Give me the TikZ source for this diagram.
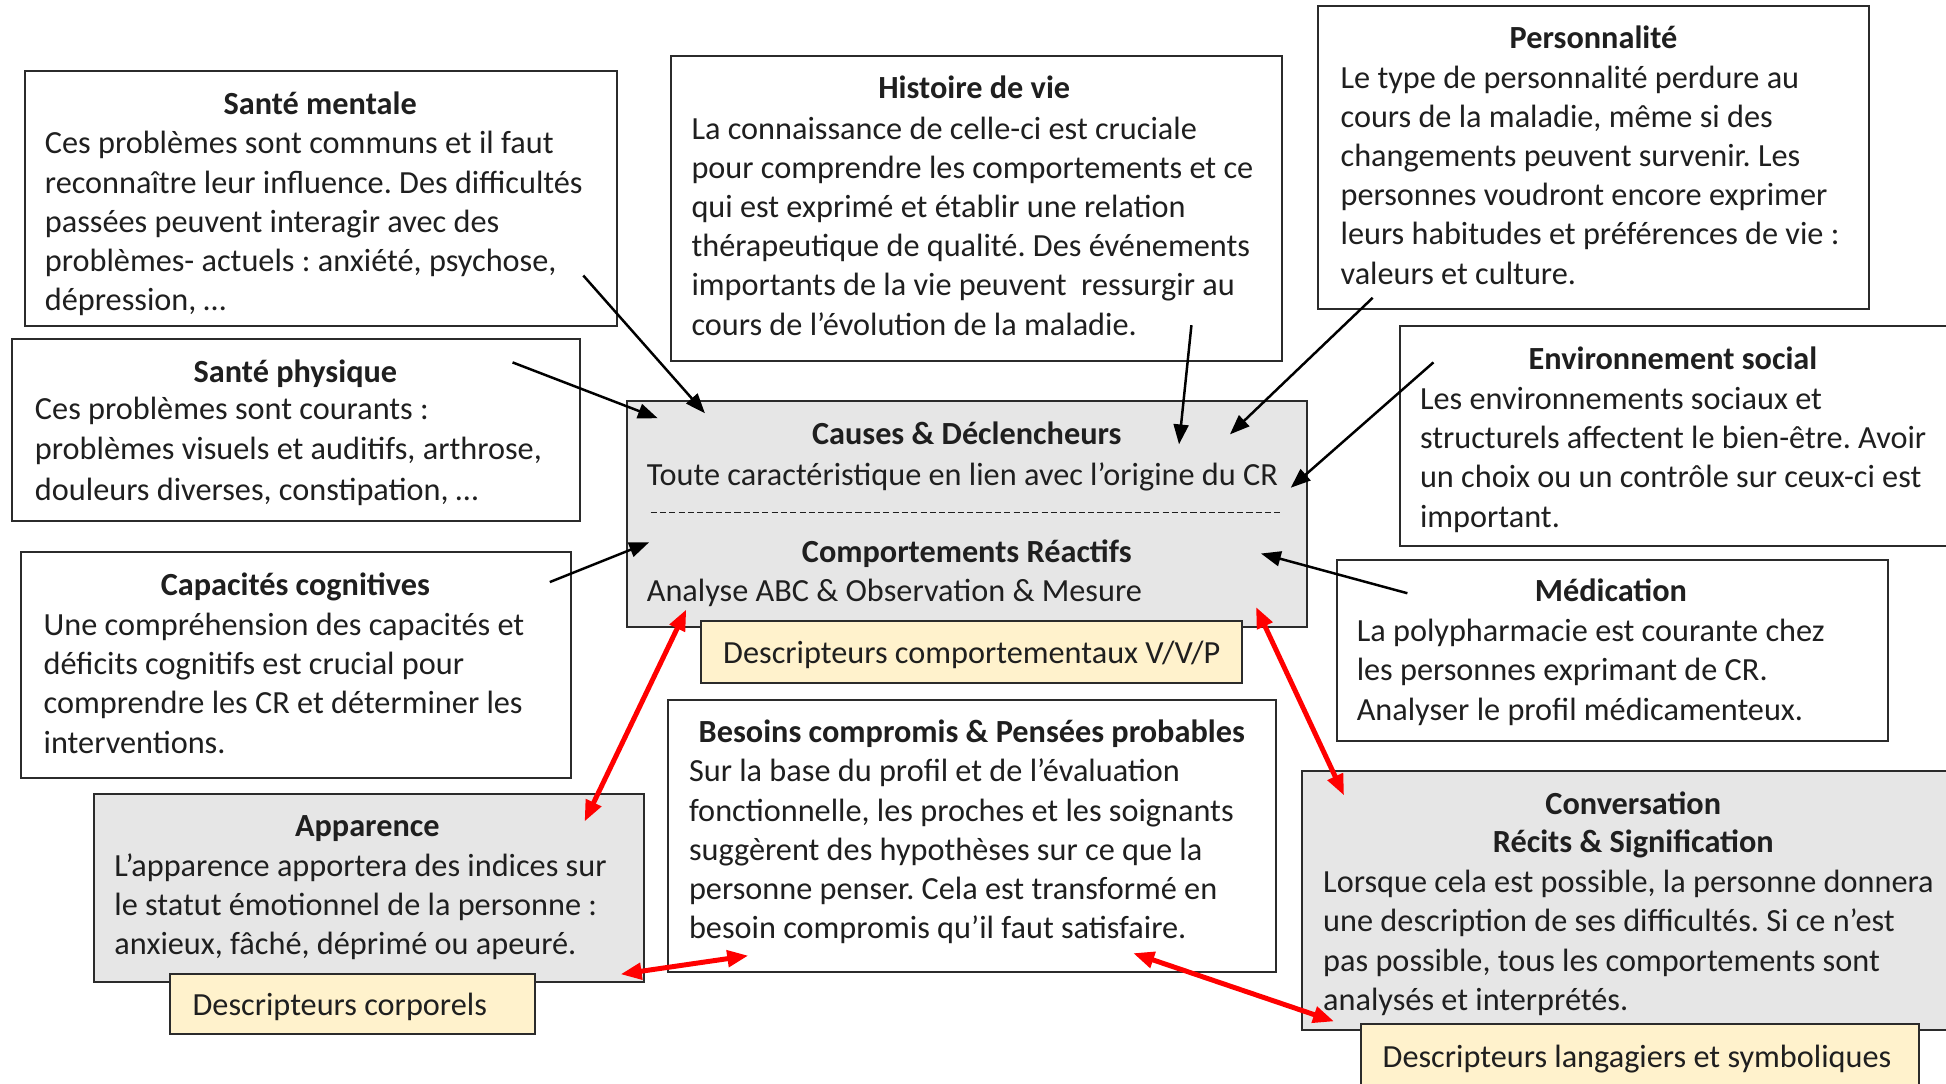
\documentclass[tikz,border=0pt]{standalone}
\usepackage{fontspec}
\setmainfont{Carlito}
\usetikzlibrary{arrows.meta,fit,calc}
\definecolor{boxgrey}{HTML}{E6E6E6}
\definecolor{tagyellow}{HTML}{FFF2CC}
\definecolor{ink}{HTML}{1F1F1F}
\definecolor{frame}{HTML}{2B2B2B}
\definecolor{arrowred}{HTML}{FF0000}

% multi-line bodies are anchored on the baseline of their last line
\tikzset{
  card/.style={draw=frame, line width=1.6pt, fill=white, inner sep=0pt},
  greycard/.style={card, fill=boxgrey},
  tagcard/.style={card, fill=tagyellow},
  head/.style={font=\fontsize{26}{31.6}\selectfont\bfseries, text=ink, inner sep=0pt, anchor=base},
  label/.style={font=\fontsize{26}{31.6}\selectfont, text=ink, inner sep=0pt, anchor=base},
  body/.style={font=\fontsize{26}{31.6}\selectfont, text=ink, inner sep=0pt, anchor=base west, align=left},
  link/.style={draw=black, line width=2pt, -{Triangle[length=16pt,width=12pt]}},
  redlink/.style={draw=arrowred, line width=4pt, {Triangle[length=17pt,width=13pt]}-{Triangle[length=17pt,width=13pt]}},
}

\begin{document}
\frenchspacing
\begin{tikzpicture}[x=1pt,y=-1pt]
\clip (0,0) rectangle (1568,873);
\fill[white] (0,0) rectangle (1568,873);

% ---- left column
\node[card, fit={(20,57) (497,263)}] (mentale) {};
\node[head] (mentaleH) at (258,92) {Santé mentale};
\node[body] (mentaleB) at (36,250.4) {Ces problèmes sont communs et il faut\\
reconnaître leur influence. Des difficultés\\
passées peuvent interagir avec des\\
problèmes- actuels : anxiété, psychose,\\
dépression, …};

\node[card, fit={(10,273) (467,420)}] (physique) {};
\node[head] (physiqueH) at (238,308) {Santé physique};
\node[body, font=\fontsize{26}{32.4}\selectfont] (physiqueB) at (28,403) {Ces problèmes sont courants :\\
problèmes visuels et auditifs, arthrose,\\
douleurs diverses, constipation, …};

\node[card, fit={(17,445) (460,627)}] (cognitif) {};
\node[head] (cognitifH) at (238,480) {Capacités cognitives};
\node[body] (cognitifB) at (35,606.8) {Une compréhension des capacités et\\
déficits cognitifs est crucial pour\\
comprendre les CR et déterminer les\\
interventions.};

\node[greycard, fit={(76,640) (519,791)}] (apparence) {};
\node[head] (apparenceH) at (296,674) {Apparence};
\node[body] (apparenceB) at (92,769.2) {L’apparence apportera des indices sur\\
le statut émotionnel de la personne :\\
anxieux, fâché, déprimé ou apeuré.};

\node[tagcard, fit={(137,785) (431,833)}] (corporels) {};
\node[body] (corporelsT) at (155,818) {Descripteurs corporels};

% ---- centre column
\node[card, fit={(541,45) (1033,291)}] (histoire) {};
\node[head] (histoireH) at (785,79) {Histoire de vie};
\node[body] (histoireB) at (557,270) {La connaissance de celle-ci est cruciale\\
pour comprendre les comportements et ce\\
qui est exprimé et établir une relation\\
thérapeutique de qualité. Des événements\\
importants de la vie peuvent\ \ ressurgir au\\
cours de l’évolution de la maladie.};

\node[greycard, fit={(505,323) (1053,505)}] (causes) {};
\node[head] (causesH) at (779,358) {Causes \& Déclencheurs};
\node[body] (causesB) at (521,391) {Toute caractéristique en lien avec l’origine du CR};
\draw[ink, line width=1.2pt, dash pattern=on 5pt off 2.5pt] ($(causes.west)+(20,-1)$) -- ($(causes.east)+(-20,-1)$);
\node[head] (reactifsH) at (779,453) {Comportements Réactifs};
\node[body] (reactifsB) at (521,485) {Analyse ABC \& Observation \& Mesure};

\node[tagcard, fit={(565,500) (1001,550)}] (comportementaux) {};
\node[label] (comportementauxT) at (783,535) {Descripteurs comportementaux V/V/P};

\node[card, fit={(538,564) (1028,783)}] (besoins) {};
\node[head] (besoinsH) at (783,598) {Besoins compromis \& Pensées probables};
\node[body] (besoinsB) at (555,756.4) {Sur la base du profil et de l’évaluation\\
fonctionnelle, les proches et les soignants\\
suggèrent des hypothèses sur ce que la\\
personne penser. Cela est transformé en\\
besoin compromis qu’il faut satisfaire.};

% ---- right column
\node[card, fit={(1062,5) (1506,249)}] (personnalite) {};
\node[head] (personnaliteH) at (1284,39) {Personnalité};
\node[body] (personnaliteB) at (1080,229) {Le type de personnalité perdure au\\
cours de la maladie, même si des\\
changements peuvent survenir. Les\\
personnes voudront encore exprimer\\
leurs habitudes et préférences de vie :\\
valeurs et culture.};

\node[card, fit={(1128,263) (1590,440)}] (social) {};
\node[head] (socialH) at (1348,298) {Environnement social};
\node[body] (socialB) at (1144,424.8) {Les environnements sociaux et\\
structurels affectent le bien-être. Avoir\\
un choix ou un contrôle sur ceux-ci est\\
important.};

\node[card, fit={(1077,451) (1521,597)}] (medication) {};
\node[head] (medicationH) at (1298,485) {Médication};
\node[body] (medicationB) at (1093,580.2) {La polypharmacie est courante chez\\
les personnes exprimant de CR.\\
Analyser le profil médicamenteux.};

\node[greycard, fit={(1049,621) (1590,830)}] (conversation) {};
\node[head] (conversationH) at (1316,656) {Conversation};
\node[head] (recitsH) at (1316,687) {Récits \& Signification};
\node[body] (conversationB) at (1066,814) {Lorsque cela est possible, la personne donnera\\
une description de ses difficultés. Si ce n’est\\
pas possible, tous les comportements sont\\
analysés et interprétés.};

\node[tagcard, fit={(1097,825) (1546,900)}] (langagiers) {};
\node[label] (langagiersT) at (1319,860) {Descripteurs langagiers et symboliques};

% ---- arrow end points
\coordinate (mentaleOut) at (470,222);
\coordinate (physiqueOut) at (413,292);
\coordinate (cognitifOut) at (443,469);
\coordinate (histoireOut) at (960,262);
\coordinate (personnaliteOut) at (1106,240);
\coordinate (socialOut) at (1155,292);
\coordinate (medicationOut) at (1134,478);
\coordinate (causesInA) at (568,333);
\coordinate (causesInB) at (530,337);
\coordinate (causesInC) at (523,437);
\coordinate (causesInD) at (950,358);
\coordinate (causesInE) at (991,350);
\coordinate (causesInF) at (1040,393);
\coordinate (causesInG) at (1016,446);
\coordinate (reactifsL) at (553,491);
\coordinate (reactifsR) at (1012,489);
\coordinate (apparenceTop) at (471,662);
\coordinate (apparenceBot) at (500,785);
\coordinate (besoinsL) at (603,770);
\coordinate (besoinsR) at (913,768);
\coordinate (conversationTop) at (1083,641);
\coordinate (conversationBot) at (1075,823);

% ---- influences feeding the central box
\draw[link] (mentaleOut) -- (causesInA);
\draw[link] (physiqueOut) -- (causesInB);
\draw[link] (cognitifOut) -- (causesInC);
\draw[link] (histoireOut) -- (causesInD);
\draw[link] (personnaliteOut) -- (causesInE);
\draw[link] (socialOut) -- (causesInF);
\draw[link] (medicationOut) -- (causesInG);

% ---- two-way links between descriptors
\draw[redlink] (reactifsL) -- (apparenceTop);
\draw[redlink] (reactifsR) -- (conversationTop);
\draw[redlink] (apparenceBot) -- (besoinsL);
\draw[redlink] (besoinsR) -- (conversationBot);
\end{tikzpicture}
\end{document}
